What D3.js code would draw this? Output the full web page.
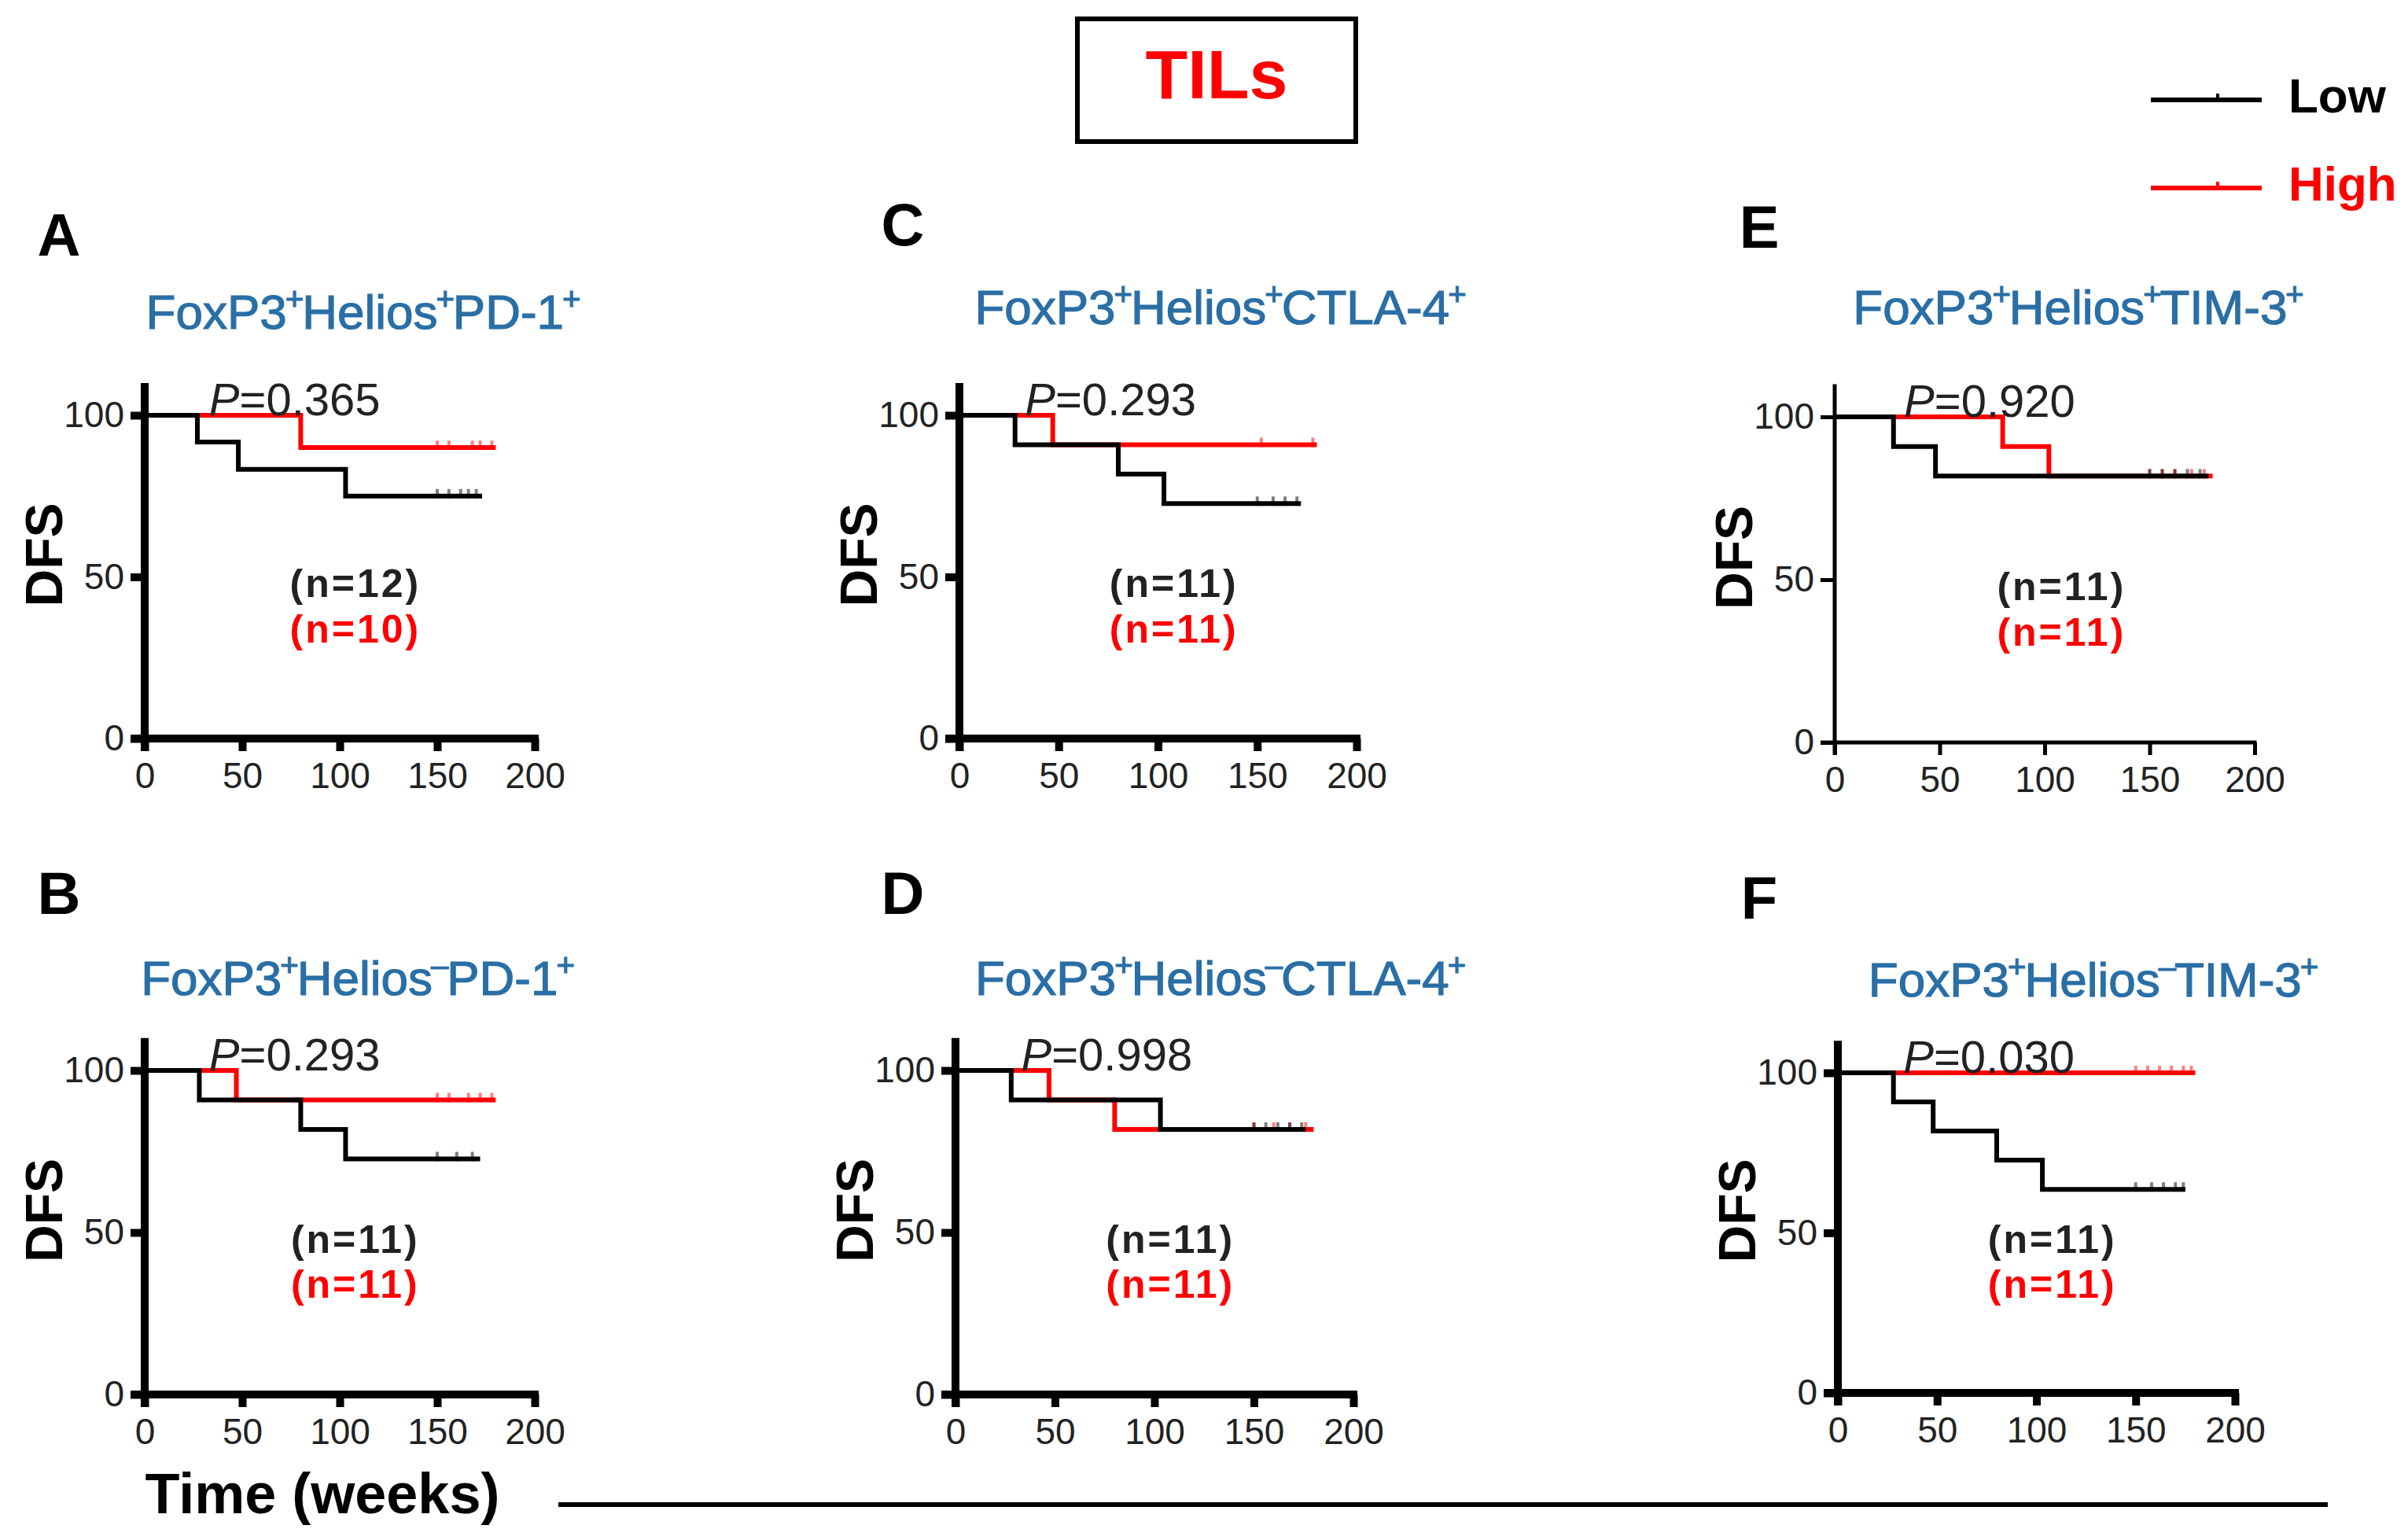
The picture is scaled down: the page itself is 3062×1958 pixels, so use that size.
<!DOCTYPE html><html><head><meta charset="utf-8"><script src="https://d3js.org/d3.v7.min.js"></script>
<style>body{margin:0;background:#fff}</style></head><body><svg id="c" width="3062" height="1958"></svg>
<script>
const panelIds=["A","C","E","B","D","F"];
const titles=[["FoxP3","+","Helios","+","PD-1","+"],["FoxP3","+","Helios","+","CTLA-4","+"],["FoxP3","+","Helios","+","TIM-3","+"],["FoxP3","+","Helios","-","PD-1","+"],["FoxP3","+","Helios","-","CTLA-4","+"],["FoxP3","+","Helios","-","TIM-3","+"]];
const pValues=["0.365","0.293","0.920","0.293","0.998","0.030"];
const nLow=[12,11,11,11,11,11], nHigh=[10,11,11,11,11,11];
const lowCurves=[
 [[0,100],[27,91.7],[48,83.3],[103,75],[173,75]],
 [[0,100],[28,90.9],[80,81.8],[103,72.7],[172,72.7]],
 [[0,100],[28,90.9],[48,81.8],[178,81.8]],
 [[0,100],[28,90.9],[80,81.8],[103,72.7],[172,72.7]],
 [[0,100],[28,90.9],[103,81.8],[176,81.8]],
 [[0,100],[28,90.9],[48,81.8],[80,72.7],[103,63.6],[175,63.6]]];
const highCurves=[
 [[0,100],[80,90],[180,90]],
 [[0,100],[47,90.9],[180,90.9]],
 [[0,100],[80,90.9],[102,81.8],[180,81.8]],
 [[0,100],[47,90.9],[180,90.9]],
 [[0,100],[47,90.9],[80,81.8],[180,81.8]],
 [[0,100],[180,100]]];
const lowCens=[[150,156,162,166,170],[150,158,164,170],[150,156,162,168,174],[150,160,168],[150,156,162,168,174],[150,158,164,170,174]];
const highCens=[[150,156,168,172,178],[152,178],[150,156,162,170,176],[150,156,166,172,178],[150,160,168,176],[150,156,162,168,174,178]];
const xTicks=[0,50,100,150,200], yTicks=[0,50,100];
const boxes=[[184,680,528,939],[1220,1725,528,939],[2333,2867,530,944],[184,680,1361,1773],[1215,1721,1361,1773],[2337,2842,1364,1771]];
const letterPos=[[75,305],[1148,292],[2237,295],[75,1142],[1148,1142],[2237,1148]];
const titlePos=[[462,398],[1552,392],[2643,392],[455,1245],[1552,1245],[2662,1247]];

const svg=d3.select("#c");
const F="Arial, 'Liberation Sans', sans-serif";
svg.append("rect").attr("x",1370).attr("y",24).attr("width",354).attr("height",156).attr("fill","none").attr("stroke","#000").attr("stroke-width",6);
svg.append("text").attr("x",1547).attr("y",102).attr("text-anchor","middle").attr("dominant-baseline","middle").attr("font-family",F).attr("font-weight","bold").attr("font-size",88).attr("fill","#f00").text("TILs");
[["Low","#000",127],["High","#f00",239]].forEach(([t,c,y])=>{
 svg.append("line").attr("x1",2735).attr("x2",2876).attr("y1",y).attr("y2",y).attr("stroke",c).attr("stroke-width",6);
 svg.append("line").attr("x1",2820).attr("x2",2820).attr("y1",y-8).attr("y2",y+2).attr("stroke",c).attr("stroke-width",4);
 svg.append("text").attr("x",2910).attr("y",y).attr("dominant-baseline","middle").attr("font-family",F).attr("font-weight","bold").attr("font-size",62).attr("fill",c).text(t);
});
svg.append("text").attr("x",410).attr("y",1905).attr("text-anchor","middle").attr("dominant-baseline","middle").attr("font-family",F).attr("font-weight","bold").attr("font-size",72).text("Time (weeks)");
svg.append("line").attr("x1",710).attr("x2",2960).attr("y1",1913).attr("y2",1913).attr("stroke","#000").attr("stroke-width",6);

panelIds.forEach((id,i)=>{
 const [x0,x1,y0,y1]=boxes[i];
 const x=d3.scaleLinear().domain([0,200]).range([x0,x1]);
 const y=d3.scaleLinear().domain([0,100]).range([y1,y0]);
 const g=svg.append("g");
 const sw=i===2?5:10;
 svg.append("text").attr("x",letterPos[i][0]).attr("y",letterPos[i][1]).attr("text-anchor","middle").attr("dominant-baseline","middle").attr("font-family",F).attr("font-weight","bold").attr("font-size",76).text(id);
 const t=svg.append("text").attr("x",titlePos[i][0]).attr("y",titlePos[i][1]+20).attr("text-anchor","middle").attr("font-family",F).attr("font-size",62).attr("fill","#2a6ea6").attr("stroke","#2a6ea6").attr("stroke-width",1.2);
 titles[i].forEach((s,k)=>{ if(k%2===0) t.append("tspan").attr("dy",k===0?0:24).attr("dx",k===0?0:-2).text(s); else t.append("tspan").attr("dy",-24).attr("dx",-2).attr("font-size",40).text(s==="-"?"\u2013":s);});
 const xa=g.append("g").attr("transform",`translate(0,${y1})`).call(d3.axisBottom(x).tickValues(xTicks).tickSize(16).tickPadding(14));
 const ya=g.append("g").attr("transform",`translate(${x0},0)`).call(d3.axisLeft(y).tickValues(yTicks).tickSize(18).tickPadding(8));
 [xa,ya].forEach(a=>{a.select(".domain").remove();a.selectAll("line").attr("stroke","#000").attr("stroke-width",sw);a.selectAll("text").attr("font-family",F).attr("font-size",46).attr("fill","#222");});
 g.append("line").attr("x1",x0-18).attr("x2",x1+sw/2).attr("y1",y1).attr("y2",y1).attr("stroke","#000").attr("stroke-width",sw);
 g.append("line").attr("x1",x0).attr("x2",x0).attr("y1",y1+16).attr("y2",y(110)).attr("stroke","#000").attr("stroke-width",sw);
 svg.append("text").attr("transform",`translate(${x0-122},${(y0+y1)/2-28}) rotate(-90)`).attr("text-anchor","middle").attr("dominant-baseline","middle").attr("font-family",F).attr("font-weight","bold").attr("font-size",66).text("DFS");
 const line=d3.line().x(d=>x(d[0])).y(d=>y(d[1])).curve(d3.curveStepAfter);
 [[highCurves[i],highCens[i],"#f00"],[lowCurves[i],lowCens[i],"#000"]].forEach(([c,cs,col])=>{
  g.append("path").attr("d",line(c)).attr("fill","none").attr("stroke",col).attr("stroke-width",6);
  const last=c[c.length-1][1];
  cs.forEach(ct=>g.append("line").attr("x1",x(ct)).attr("x2",x(ct)).attr("y1",y(last)-9).attr("y2",y(last)+3).attr("stroke",col).attr("stroke-opacity",0.5).attr("stroke-width",4));
 });
 const pt=g.append("text").attr("x",x(33)).attr("y",y(100)).attr("font-family",F).attr("font-size",58).attr("fill","#222");
 pt.append("tspan").attr("font-style","italic").text("P");pt.append("tspan").text("="+pValues[i]);
 [["(n="+nLow[i]+")","#222",y(47)],["(n="+nHigh[i]+")","#f00",y(33)]].forEach(([s,c,yy])=>g.append("text").attr("x",x(108)).attr("y",yy).attr("text-anchor","middle").attr("dominant-baseline","middle").attr("font-family",F).attr("font-weight","bold").attr("font-size",50).attr("letter-spacing",3).attr("fill",c).text(s));
});
</script></body></html>
